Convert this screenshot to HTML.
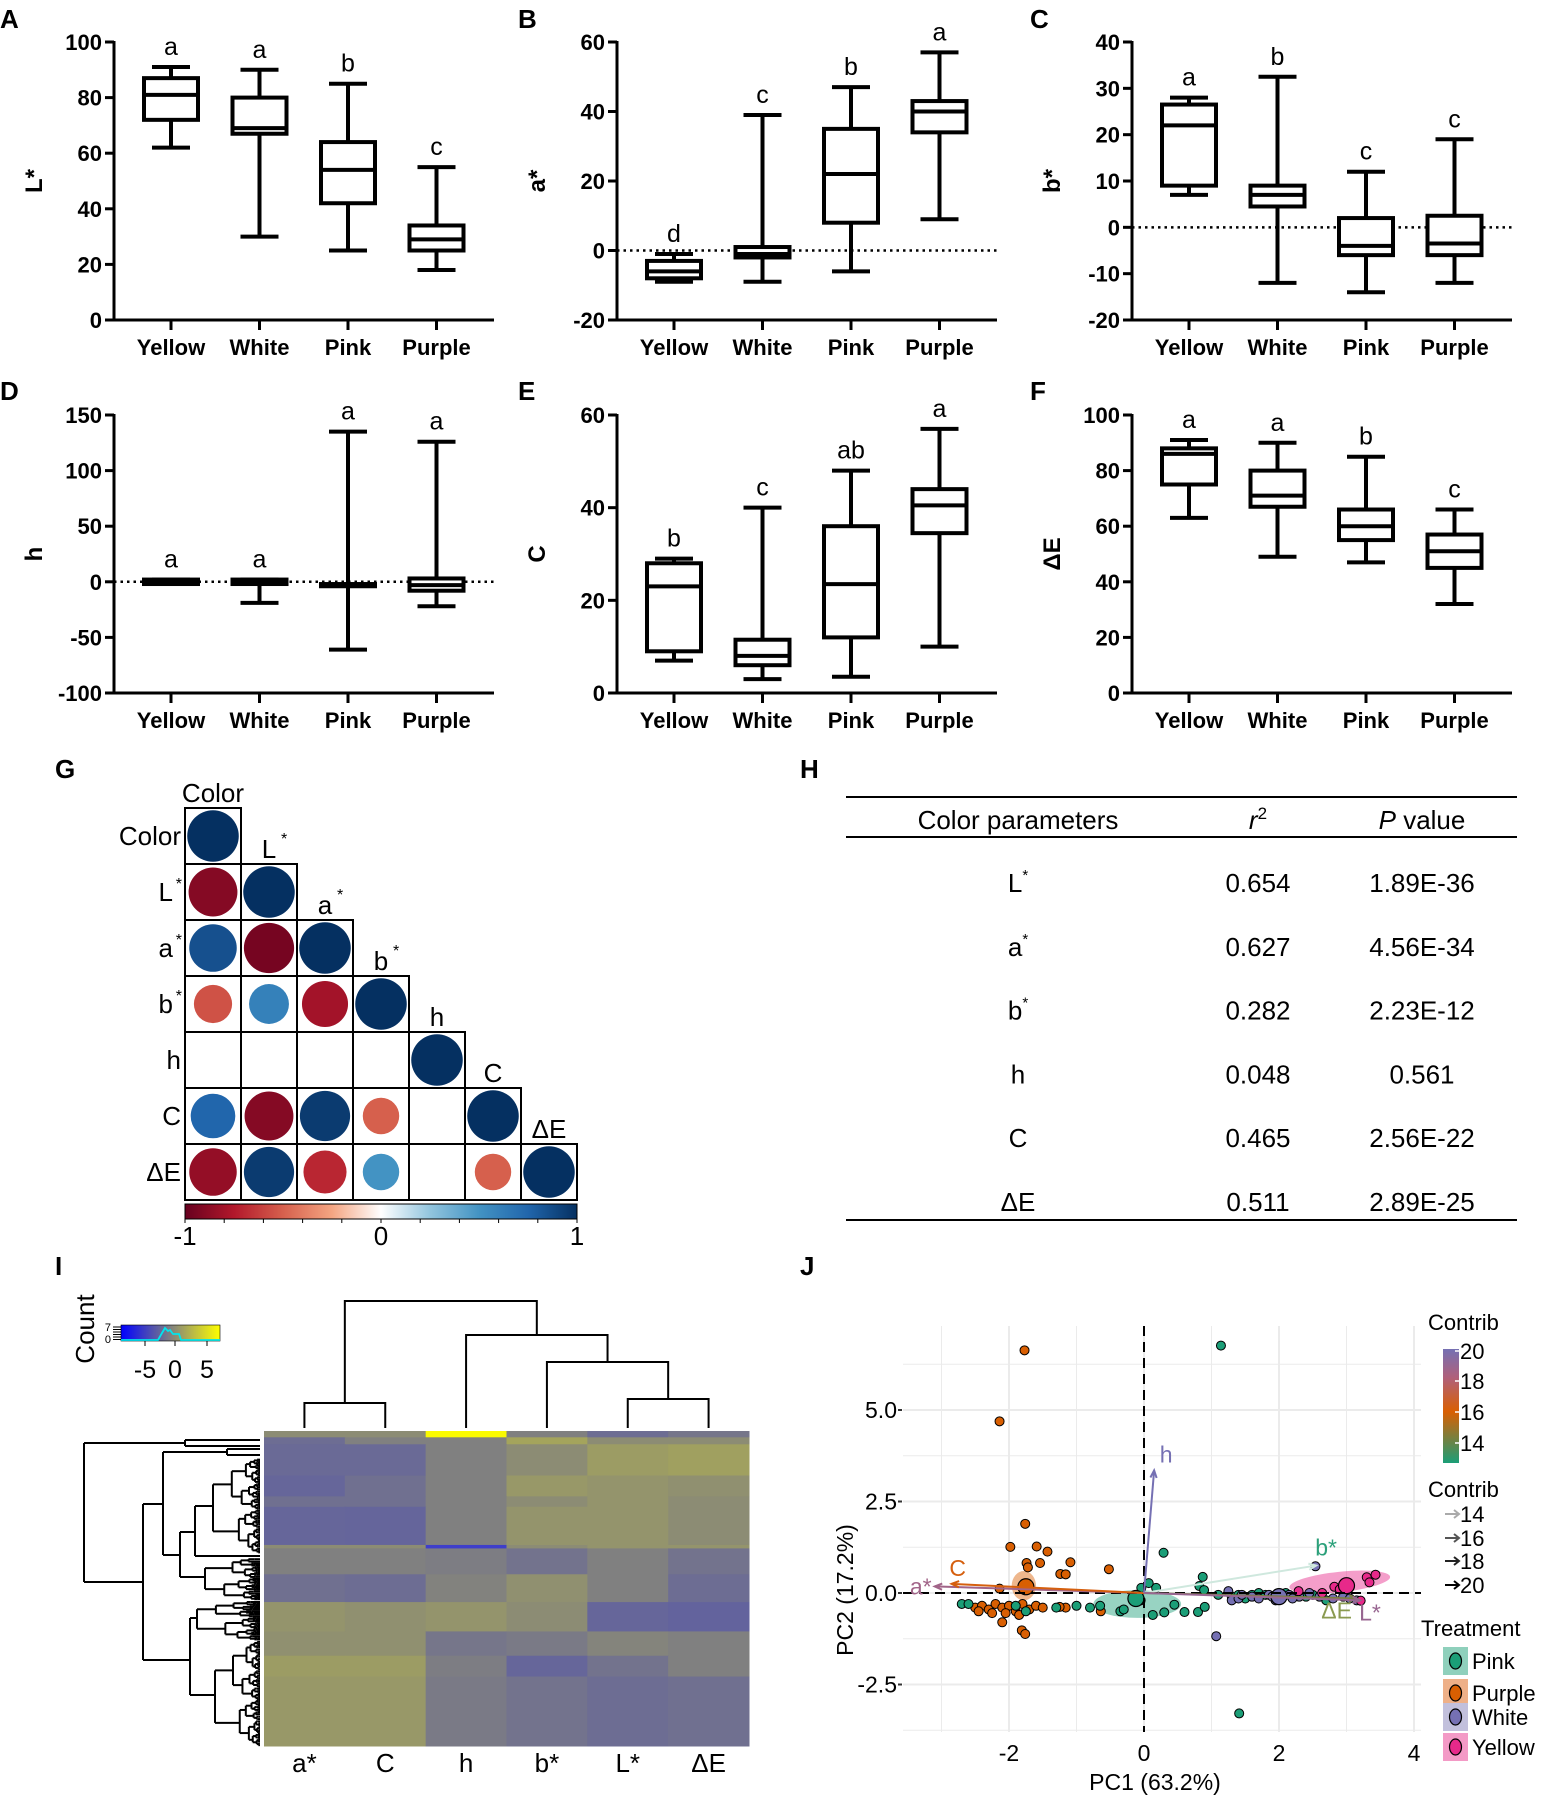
<!DOCTYPE html>
<html><head><meta charset="utf-8">
<style>
html,body{margin:0;padding:0;background:#fff;}
svg{display:block;font-family:"Liberation Sans",Arial,sans-serif;}
.n{font-family:"Liberation Sans Narrow","Liberation Sans",sans-serif;}
</style></head>
<body>
<svg id="fig" width="1555" height="1803" viewBox="0 0 1555 1803" xmlns="http://www.w3.org/2000/svg">
<g font-weight="bold" font-size="26">
<text x="0" y="28">A</text>
<text x="518" y="28">B</text>
<text x="1030" y="28">C</text>
<text x="0" y="400">D</text>
<text x="518" y="400">E</text>
<text x="1030" y="400">F</text>
<text x="55" y="778">G</text>
<text x="800" y="778">H</text>
<text x="55" y="1275">I</text>
<text x="800" y="1275">J</text>
</g>
<g id="table-h" font-size="26">
<line x1="846" y1="797" x2="1517" y2="797" stroke="#000" stroke-width="2"/>
<text x="1018" y="829" text-anchor="middle">Color parameters</text>
<text x="1258" y="829" text-anchor="middle"><tspan font-style="italic">r</tspan><tspan font-size="17" dy="-10">2</tspan></text>
<text x="1422" y="829" text-anchor="middle"><tspan font-style="italic">P</tspan> value</text>
<line x1="846" y1="837" x2="1517" y2="837" stroke="#000" stroke-width="2"/>
<line x1="846" y1="1220" x2="1517" y2="1220" stroke="#000" stroke-width="2"/>
</g>
</svg>
<script>
// ---------- DATA ----------
const groups = ['Yellow','White','Pink','Purple'];
const statsL  = [[62,72,81,87,91],[30,67,69,80,90],[25,42,54,64,85],[18,25,29,34,55]];
const lettersL = ['a','a','b','c'];
const statsA  = [[-9,-8,-6,-3,-1],[-9,-2,-1,1,39],[-6,8,22,35,47],[9,34,40,43,57]];
const lettersA = ['d','c','b','a'];
const statsB  = [[7,9,22,26.5,28],[-12,4.5,7,9,32.5],[-14,-6,-4,2,12],[-12,-6,-3.5,2.5,19]];
const lettersB = ['a','b','c','c'];
const statsH  = [[-2,-2,0,2,2],[-19,-2,0,2,2],[-61,-4,-3,-2,135],[-22,-8,-3,3,126]];
const lettersH = ['a','a','a','a'];
const statsC  = [[7,9,23,28,29],[3,6,8,11.5,40],[3.5,12,23.5,36,48],[10,34.5,40.5,44,57]];
const lettersC = ['b','c','ab','a'];
const statsE  = [[63,75,86,88,91],[49,67,71,80,90],[47,55,60,66,85],[32,45,51,57,66]];
const lettersE = ['a','a','b','c'];

const corrLabels = ['Color','L*','a*','b*','h','C','ΔE'];
const corrValues = [
 [1],
 [-0.9,1],
 [0.85,-0.95,1],
 [-0.55,0.6,-0.8,1],
 [null,null,null,null,1],
 [0.75,-0.9,0.95,-0.5,null,1],
 [-0.85,0.95,-0.7,0.5,null,-0.5,1]
];

const tableParams = ['L','a','b','h','C','ΔE'];
const tableR2 = ['0.654','0.627','0.282','0.048','0.465','0.511'];
const tableP = ['1.89E-36','4.56E-34','2.23E-12','0.561','2.56E-22','2.89E-25'];

const heatCols = ['a*','C','h','b*','L*','ΔE'];
const heatBlockFrac = [0.02,0.022,0.099,0.066,0.033,0.121,0.011,0.082,0.088,0.093,0.077,0.066,0.220];
const heatBlockVals = [
 [0.3,0.3,1.5,0,-0.6,-0.3],
 [-0.6,0,0,0.9,0.3,0.3],
 [-0.7,-0.7,0,0.3,0.7,0.8],
 [-0.8,-0.5,0,0.6,0.5,0.4],
 [-0.5,-0.5,0,0.3,0.5,0.3],
 [-0.8,-0.85,0,0.5,0.5,0.3],
 [0.3,0.3,-1.3,0.3,0.5,0.5],
 [0,0,-0.1,-0.4,0,-0.4],
 [-0.5,-0.6,0.05,0.4,0,-0.6],
 [0.5,0.4,0.5,0.3,-0.8,-0.9],
 [0.4,0.4,-0.3,-0.2,0.1,0],
 [0.7,0.7,-0.1,-0.8,-0.4,0],
 [0.6,0.6,-0.2,-0.4,-0.6,-0.5]
];

const pcaPurpleX = [-1.77,-2.14,-1.76,-1.98,-1.59,-1.43,-1.74,-1.54,-1.09,-0.52,-1.24,-1.16,-2.14,-2.5,-2.4,-2.3,-2.2,-2.1,-2.0,-1.9,-1.8,-1.7,-1.6,-1.5,-2.45,-2.25,-2.05,-1.85,-2.1,-1.81,-1.76,-1.16,-0.64,-1.25,-1.72];
const pcaPurpleY = [6.63,4.69,1.89,1.26,1.27,1.13,0.82,0.82,0.84,0.65,0.52,0.51,0.12,-0.4,-0.35,-0.45,-0.3,-0.4,-0.35,-0.5,-0.3,-0.45,-0.35,-0.4,-0.5,-0.55,-0.55,-0.6,-0.8,-1.02,-1.12,-0.4,-0.5,-0.38,0.7];
const pcaPinkX = [1.14,0.29,0.87,0.82,0.89,-0.04,0.18,0.07,1.41,-2.7,-2.6,-1.75,-1.9,-1.3,-1.0,-0.8,-0.65,-0.35,-0.3,0.13,0.3,0.45,0.6,0.8,0.9,1.6,1.7,1.8,1.5,2.0,2.1,1.3,1.4,2.4,2.5,2.7,1.1,-0.05];
const pcaPinkY = [6.76,1.10,0.44,0.19,0.08,0.14,0.14,0.27,-3.29,-0.3,-0.3,-0.5,-0.35,-0.4,-0.35,-0.4,-0.35,-0.5,-0.45,-0.6,-0.53,-0.32,-0.52,-0.52,-0.38,-0.05,0.0,-0.05,-0.15,-0.1,0.0,-0.1,-0.05,-0.1,-0.05,-0.2,-0.05,-0.2];
const pcaWhiteX = [2.54,1.07,1.25,1.3,1.4,1.45,1.6,1.7,1.85,1.95,2.05,2.15,2.3,2.45,2.6,2.8,2.95,3.05,3.15,2.2,1.9];
const pcaWhiteY = [0.73,-1.18,0.05,-0.2,-0.15,-0.05,-0.1,-0.15,-0.05,-0.2,-0.1,-0.05,-0.1,0.0,-0.1,-0.15,-0.1,-0.15,-0.2,-0.15,-0.1];
const pcaYellowX = [3.3,3.43,3.34,2.82,2.64,2.29,3.21,2.9,3.0];
const pcaYellowY = [0.43,0.5,0.29,0.17,0.0,0.05,-0.21,0.1,0.25];
const centroidX = [-0.12,-1.75,2.0,3.0];
const centroidY = [-0.15,0.17,-0.1,0.2];
const arrowNames = ['a*','C','h','b*','ΔE','L*'];
const arrowX = [-3.1,-2.85,0.15,2.55,3.15,3.2];
const arrowY = [0.18,0.25,3.35,0.75,-0.15,-0.2];
const arrowContrib = [18.5,16.2,20,13.2,14.5,18.8];

// ---------- HELPERS ----------
const NS='http://www.w3.org/2000/svg';
const svg=document.getElementById('fig');
function mk(parent,tag,attrs,text){
  const e=document.createElementNS(NS,tag);
  for(const k in attrs) e.setAttribute(k,attrs[k]);
  if(text!==undefined) e.textContent=text;
  parent.appendChild(e);
  return e;
}

// ---------- BOX PLOTS ----------
const panels=[
 {stats:statsL,letters:lettersL,min:0,max:100,ticks:[0,20,40,60,80,100],label:'L*',ax:114,top:42,zero:false},
 {stats:statsA,letters:lettersA,min:-20,max:60,ticks:[-20,0,20,40,60],label:'a*',ax:617,top:42,zero:true},
 {stats:statsB,letters:lettersB,min:-20,max:40,ticks:[-20,-10,0,10,20,30,40],label:'b*',ax:1132,top:42,zero:true},
 {stats:statsH,letters:lettersH,min:-100,max:150,ticks:[-100,-50,0,50,100,150],label:'h',ax:114,top:415,zero:true},
 {stats:statsC,letters:lettersC,min:0,max:60,ticks:[0,20,40,60],label:'C',ax:617,top:415,zero:false},
 {stats:statsE,letters:lettersE,min:0,max:100,ticks:[0,20,40,60,80,100],label:'ΔE',ax:1132,top:415,zero:false}
];
panels.forEach((p,pi)=>{
  const g=mk(svg,'g',{});
  
  
  const H=278, bot=p.top+H;
  const y=v=>bot-(v-p.min)/(p.max-p.min)*H;
  const xc=i=>p.ax+57+88.5*i;
  const end=p.ax+380;
  const yaxis=mk(g,'line',{x1:p.ax,y1:p.top-1,x2:p.ax,y2:bot+1.5,stroke:'#000','stroke-width':3});
  
  
  const xaxis=mk(g,'line',{x1:p.ax-1.5,y1:bot,x2:end,y2:bot,stroke:'#000','stroke-width':3});
  
  
  p.ticks.forEach(t=>{
    const tk=mk(g,'line',{x1:p.ax-9,y1:y(t),x2:p.ax,y2:y(t),stroke:'#000','stroke-width':3});
    
    
    const tl=mk(g,'text',{x:p.ax-12,y:y(t)+8,'text-anchor':'end','font-size':22,'font-weight':'bold'},String(t));
    
    
  });
  const yl=mk(g,'text',{x:0,y:0,'font-size':24,'font-weight':'bold','text-anchor':'middle',transform:`translate(${p.ax-72},${p.top+H/2}) rotate(-90)`},p.label);
  
  
  if(p.zero){
    const zl=mk(g,'line',{x1:p.ax,y1:y(0),x2:end,y2:y(0),stroke:'#000','stroke-width':2.5,'stroke-dasharray':'2.5 4'});
    
    
  }
  groups.forEach((gname,i)=>{
    const s=p.stats[i], x=xc(i);
    const xt=mk(g,'line',{x1:x,y1:bot,x2:x,y2:bot+10,stroke:'#000','stroke-width':3});
    
    
    const xl=mk(g,'text',{x:x,y:bot+35,'text-anchor':'middle','font-size':22,'font-weight':'bold'},gname);
    
    
    const bg=mk(g,'g',{stroke:'#000','stroke-width':4,fill:'none'});
    
    
    mk(bg,'line',{x1:x,y1:y(s[0]),x2:x,y2:y(s[1])});
    mk(bg,'line',{x1:x,y1:y(s[3]),x2:x,y2:y(s[4])});
    mk(bg,'line',{x1:x-19,y1:y(s[0]),x2:x+19,y2:y(s[0])});
    mk(bg,'line',{x1:x-19,y1:y(s[4]),x2:x+19,y2:y(s[4])});
    mk(bg,'rect',{x:x-27,y:y(s[3]),width:54,height:Math.max(2,y(s[1])-y(s[3])),fill:'#fff'});
    mk(bg,'line',{x1:x-27,y1:y(s[2]),x2:x+27,y2:y(s[2])});
    const lt=mk(g,'text',{x:x,y:y(s[4])-12,'text-anchor':'middle','font-size':25},p.letters[i]);
    
    
  });
});

// ---------- CORRELATION (G) ----------
(function(){
  const g=mk(svg,'g',{});
  
  
  const L=185,T=808,c=56;
  const stops=[[-1,[103,0,31]],[-0.75,[178,24,43]],[-0.5,[214,96,77]],[-0.25,[244,165,130]],[0,[255,255,255]],[0.25,[146,197,222]],[0.5,[67,147,195]],[0.75,[33,102,172]],[1,[5,48,97]]];
  function col(v){for(let i=0;i<stops.length-1;i++){const a=stops[i],b=stops[i+1];if(v<=b[0]){const t=(v-a[0])/(b[0]-a[0]);return 'rgb('+a[1].map((q,k)=>Math.round(q+(b[1][k]-q)*t)).join(',')+')';}}return 'rgb(5,48,97)';}
  corrValues.forEach((row,i)=>{
    row.forEach((v,j)=>{
      const cell=mk(g,'rect',{x:L+j*c,y:T+i*c,width:c,height:c,fill:'#fff',stroke:'#000','stroke-width':2});
      
      
      if(v!==null){
        const ci=mk(g,'circle',{cx:L+j*c+c/2,cy:T+i*c+c/2,r:c*0.46*Math.sqrt(Math.abs(v)),fill:col(v)});
        
        
      }
    });
  });
  corrLabels.forEach((n,i)=>{
    const star=n.endsWith('*'), base=star?n.slice(0,-1):n;
    const rl=mk(g,'text',{x:L-4-(star?8:0),y:T+i*c+c/2+9,'text-anchor':'end','font-size':26},base);
    
    
    if(star){const s=mk(g,'text',{x:L-3,y:T+i*c+c/2-3,'text-anchor':'end','font-size':16},'*');}
    const cl=mk(g,'text',{x:L+i*c+c/2,y:T+i*c-6,'text-anchor':'middle','font-size':26},base);
    
    
    if(star){const s=mk(g,'text',{x:L+i*c+c/2+12,y:T+i*c-20,'font-size':16},'*');}
  });
  const defs=mk(svg,'defs',{});
  const lg=mk(defs,'linearGradient',{id:'rdbu',x1:0,x2:1,y1:0,y2:0});
  stops.forEach(s=>mk(lg,'stop',{offset:((s[0]+1)/2*100)+'%','stop-color':col(s[0])}));
  const W=7*c;
  const cb=mk(g,'rect',{x:L,y:1204,width:W,height:15,fill:'url(#rdbu)',stroke:'#000','stroke-width':1});
  
  
  for(let k=0;k<=10;k++){mk(g,'line',{x1:L+W*k/10,y1:1219,x2:L+W*k/10,y2:1223,stroke:'#000','stroke-width':1});}
  [['-1',0],['0',0.5],['1',1]].forEach(([t,f])=>{
    const tl=mk(g,'text',{x:L+W*f,y:1245,'text-anchor':'middle','font-size':26},t);
    
    
  });
})();

// ---------- TABLE (H) ----------
(function(){
  const g=document.getElementById('table-h');
  tableParams.forEach((p,i)=>{
    const yb=892+i*63.8;
    const t=mk(g,'text',{x:1018,y:yb,'text-anchor':'middle','font-size':26},'');
    
    
    mk(t,'tspan',{},p);
    if(p.length===1&&'Lab'.includes(p)) mk(t,'tspan',{'font-size':15,dy:-12},'*');
    const r=mk(g,'text',{x:1258,y:yb,'text-anchor':'middle','font-size':26},tableR2[i]);
    
    
    const pv=mk(g,'text',{x:1422,y:yb,'text-anchor':'middle','font-size':26},tableP[i]);
    
    
  });
})();

// ---------- HEATMAP (I) ----------
(function(){
  const g=mk(svg,'g',{});
  
  
  const X0=264,X1=749,Y0=1431,Y1=1746,cw=(X1-X0)/heatCols.length;
  function hc(v){
    const gray=[128,128,128],blue=[96,96,160],dblue=[40,40,230],yel=[168,168,88],byel=[250,250,0];
    let a,b,t;
    if(v>=0){ if(v<=1){a=gray;b=yel;t=v;} else {a=yel;b=byel;t=(v-1)/0.5;} }
    else { if(v>=-1){a=gray;b=blue;t=-v;} else {a=blue;b=dblue;t=(-v-1)/0.5;} }
    t=Math.min(1,t);
    return 'rgb('+a.map((q,k)=>Math.round(q+(b[k]-q)*t)).join(',')+')';
  }
  let yy=Y0;
  const tot=heatBlockFrac.reduce((s,v)=>s+v,0);
  heatBlockFrac.forEach((f,bi)=>{
    const h=f/tot*(Y1-Y0);
    heatBlockVals[bi].forEach((v,ci)=>{
      const r=mk(g,'rect',{x:X0+ci*cw,y:yy,width:cw+0.5,height:h+0.5,fill:hc(v)});
      
      
    });
    yy+=h;
  });
  heatCols.forEach((n,i)=>{
    const t=mk(g,'text',{x:X0+cw*(i+0.5),y:1772,'text-anchor':'middle','font-size':26},n);
    
    
  });
  const cx=i=>X0+cw*(i+0.5);
  const d=mk(g,'g',{stroke:'#000','stroke-width':2,fill:'none'});
  
  
  const leafY=1428;
  const ac=(cx(0)+cx(1))/2, le=(cx(4)+cx(5))/2, bl=(cx(3)+le)/2, hb=(cx(2)+bl)/2;
  const seg=(pts)=>mk(d,'polyline',{points:pts.map(p=>p.join(',')).join(' ')});
  seg([[cx(0),leafY],[cx(0),1403],[cx(1),1403],[cx(1),leafY]]);
  seg([[cx(4),leafY],[cx(4),1399],[cx(5),1399],[cx(5),leafY]]);
  seg([[cx(3),leafY],[cx(3),1362],[le,1362],[le,1399]]);
  seg([[cx(2),leafY],[cx(2),1335],[bl,1335],[bl,1362]]);
  seg([[ac,1403],[ac,1301],[hb,1301],[hb,1335]]);
  // row dendrogram
  const rd=mk(g,'g',{stroke:'#000','stroke-width':2,fill:'none'});
  
  
  const ln=(x1,y1,x2,y2)=>mk(rd,'line',{x1,y1,x2,y2});
  const R=260;
  function sub(x,y1,y2,k){
    if(y2-y1<2.5){ln(x,(y1+y2)/2,R,(y1+y2)/2);return;}
    const m=y1+(y2-y1)*(0.4+0.2*((k*37)%10)/10);
    const c1=(y1+m)/2, c2=(m+y2)/2;
    const xa=x+(R-x)*(0.3+0.1*(k%3)), xb=x+(R-x)*(0.35+0.1*((k+1)%3));
    ln(x,c1,x,c2); ln(x,c1,xa,c1); ln(x,c2,xb,c2);
    sub(xa,y1,m,k+1); sub(xb,m,y2,k+2);
  }
  ln(84,1443,84,1582); ln(84,1443,185,1443); ln(84,1582,143,1582);
  ln(185,1440,185,1446); ln(185,1440,R,1440); ln(185,1446,R,1446);
  ln(143,1504,143,1660); ln(143,1504,163,1504); ln(143,1660,190,1660);
  ln(163,1452,163,1555); ln(163,1452,227,1452); ln(163,1555,180,1555);
  ln(227,1449,227,1455); ln(227,1449,R,1449); ln(227,1455,R,1455);
  ln(180,1532,180,1577); ln(180,1532,195,1532); ln(180,1577,205,1577);
  ln(195,1506,195,1556); ln(195,1506,213,1506); ln(195,1556,R,1556);
  sub(213,1459,1553,1);
  sub(205,1558,1600,2);
  ln(190,1618,190,1695); ln(190,1618,197,1618); ln(190,1695,215,1695);
  sub(197,1601,1640,3);
  sub(215,1641,1746,4);
  // count key
  const kg=mk(svg,'g',{});
  
  
  const defs=document.querySelector('defs');
  const lg=mk(defs,'linearGradient',{id:'bly',x1:0,x2:1,y1:0,y2:0});
  mk(lg,'stop',{offset:'0%','stop-color':'#0000ff'});
  mk(lg,'stop',{offset:'50%','stop-color':'#808080'});
  mk(lg,'stop',{offset:'100%','stop-color':'#ffff00'});
  const kb=mk(kg,'rect',{x:121,y:1325,width:99,height:16,fill:'url(#bly)',stroke:'#000','stroke-width':0.6});
  
  
  mk(kg,'polyline',{points:'121,1340 158,1340 162,1333 165,1328 168,1331 170,1330 173,1334 179,1334 181,1340 220,1340',stroke:'#00e5ee','stroke-width':1.8,fill:'none'});
  for(let k=0;k<6;k++) mk(kg,'line',{x1:113,y1:1327+k*2.5,x2:121,y2:1327+k*2.5,stroke:'#000','stroke-width':1});
  mk(kg,'text',{x:111,y:1331,'font-size':11,'text-anchor':'end'},'7');
  mk(kg,'text',{x:111,y:1343,'font-size':11,'text-anchor':'end'},'0');
  [['-5',145],['0',175],['5',207]].forEach(([t,x])=>{
    mk(kg,'line',{x1:x,y1:1341,x2:x,y2:1346,stroke:'#000','stroke-width':1});
    const tl=mk(kg,'text',{x:x,y:1378,'text-anchor':'middle','font-size':25},t);
    
    
  });
  const ct=mk(kg,'text',{x:0,y:0,'font-size':26,'text-anchor':'middle',transform:'translate(94,1329) rotate(-90)'},'Count');
  
  
})();

// ---------- PCA (J) ----------
(function(){
  const g=mk(svg,'g',{'class':'n'});
  
  
  const PX0=903,PX1=1421,PY0=1326,PY1=1732;
  const sx=v=>1144+v*67.5, sy=v=>1593-v*36.6;
  [-3,-2,-1,0,1,2,3,4].forEach(v=>{const gl=mk(g,'line',{x1:sx(v),y1:PY0,x2:sx(v),y2:PY1,stroke:'#ebebeb','stroke-width':v%2===0?2:1});});
  [-3.75,-2.5,-1.25,0,1.25,2.5,3.75,5,6.25].forEach((v,k)=>{const gl=mk(g,'line',{x1:PX0,y1:sy(v),x2:PX1,y2:sy(v),stroke:'#ebebeb','stroke-width':k%2===1?2:1});});
  const ell=[[-0.1,-0.3,0.65,0.38,'#1b9e77',0],[-1.78,0.2,0.18,0.4,'#d95f02',0],[2.9,0.3,0.75,0.28,'#e7298a',-6]];
  ell.forEach(e=>{const el=mk(g,'ellipse',{cx:sx(e[0]),cy:sy(e[1]),rx:e[2]*67.5,ry:e[3]*36.6,fill:e[4],'fill-opacity':0.45,transform:`rotate(${e[5]},${sx(e[0])},${sy(e[1])})`});});
  const sets=[[pcaPurpleX,pcaPurpleY,'#d95f02','purple'],[pcaPinkX,pcaPinkY,'#1b9e77','pink'],[pcaWhiteX,pcaWhiteY,'#7570b3','white'],[pcaYellowX,pcaYellowY,'#e7298a','yellow']];
  sets.forEach(s=>{
    s[0].forEach((x,i)=>{
      const c=mk(g,'circle',{cx:sx(x),cy:sy(s[1][i]),r:4.5,fill:s[2],stroke:'#000','stroke-width':1});
      
      
    });
  });
  const ccols=['#1b9e77','#d95f02','#7570b3','#e7298a'];
  centroidX.forEach((x,i)=>{
    const c=mk(g,'circle',{cx:sx(x),cy:sy(centroidY[i]),r:8,fill:ccols[i],stroke:'#000','stroke-width':1.2});
    
    
  });
  const dx=mk(g,'line',{x1:PX0,y1:sy(0),x2:PX1,y2:sy(0),stroke:'#000','stroke-width':2,'stroke-dasharray':'10 6'});
  
  
  const dy=mk(g,'line',{x1:sx(0),y1:PY0,x2:sx(0),y2:PY1,stroke:'#000','stroke-width':2,'stroke-dasharray':'10 6'});
  
  
  function ccol(v){const st=[[13,[27,158,119]],[16,[217,95,2]],[18,[176,96,122]],[20,[117,112,179]]];for(let i=0;i<st.length-1;i++){const a=st[i],b=st[i+1];if(v<=b[0]){const t=Math.max(0,(v-a[0])/(b[0]-a[0]));return 'rgb('+a[1].map((q,k)=>Math.round(q+(b[1][k]-q)*t)).join(',')+')';}}return 'rgb(117,112,179)';}
  const labOff=[[-14,8],[6,-8],[12,-8],[10,-10],[-20,20],[10,20]];
  arrowNames.forEach((n,i)=>{
    const x2=sx(arrowX[i]),y2=sy(arrowY[i]),x1=sx(0),y1=sy(0);
    const col=i===3?'#cfe8de':ccol(arrowContrib[i]);
    const a=mk(g,'line',{x1,y1,x2,y2,stroke:col,'stroke-width':2});
    
    
    const ang=Math.atan2(y2-y1,x2-x1);
    const hp=[[x2,y2],[x2-8*Math.cos(ang-0.4),y2-8*Math.sin(ang-0.4)],[x2,y2],[x2-8*Math.cos(ang+0.4),y2-8*Math.sin(ang+0.4)]];
    mk(g,'polyline',{points:hp.map(p=>p.join(',')).join(' '),stroke:col,'stroke-width':2,fill:'none'});
    const lcol=i===3?'#2ca07a':(i===4?'#8a9a50':ccol(arrowContrib[i]));
    const t=mk(g,'text',{x:x2+labOff[i][0],y:y2+labOff[i][1],'font-size':23,fill:lcol,'text-anchor':'middle'},n);
    
    
  });
  [['-2',-2],['0',0],['2',2],['4',4]].forEach(([t,v])=>{const tl=mk(g,'text',{x:sx(v),y:1761,'text-anchor':'middle','font-size':23},t);});
  [['5.0',5],['2.5',2.5],['0.0',0],['-2.5',-2.5]].forEach(([t,v])=>{const tl=mk(g,'text',{x:897,y:sy(v)+8,'text-anchor':'end','font-size':23},t);mk(g,'line',{x1:898,y1:sy(v),x2:902,y2:sy(v),stroke:'#333','stroke-width':2});});
  const xt=mk(g,'text',{x:1155,y:1790,'text-anchor':'middle','font-size':23},'PC1 (63.2%)');
  
  
  const yt=mk(g,'text',{x:0,y:0,'text-anchor':'middle','font-size':23,transform:'translate(853,1590) rotate(-90)'},'PC2 (17.2%)');
  
  
  const lgd=mk(g,'g',{});
  
  
  mk(lgd,'text',{x:1428,y:1330,'font-size':22},'Contrib');
  const defs=document.querySelector('defs');
  const gr=mk(defs,'linearGradient',{id:'contrib',x1:0,x2:0,y1:1,y2:0});
  mk(gr,'stop',{offset:'0%','stop-color':'#1b9e77'});
  mk(gr,'stop',{offset:'45%','stop-color':'#d95f02'});
  mk(gr,'stop',{offset:'75%','stop-color':'#b0607a'});
  mk(gr,'stop',{offset:'100%','stop-color':'#7570b3'});
  mk(lgd,'rect',{x:1443,y:1349,width:16,height:114,fill:'url(#contrib)'});
  [['20',1351],['18',1381],['16',1412],['14',1443]].forEach(([t,y])=>{mk(lgd,'line',{x1:1455,y1:y,x2:1459,y2:y,stroke:'#fff','stroke-width':1.5});mk(lgd,'text',{x:1460,y:y+8,'font-size':22},t);});
  mk(lgd,'text',{x:1428,y:1497,'font-size':22},'Contrib');
  [['14',1514,'#aaa'],['16',1538,'#555'],['18',1561,'#222'],['20',1585,'#000']].forEach(([t,y,c])=>{mk(lgd,'line',{x1:1445,y1:y,x2:1459,y2:y,stroke:c,'stroke-width':2});mk(lgd,'polyline',{points:`1454,${y-4} 1459,${y} 1454,${y+4}`,stroke:c,'stroke-width':2,fill:'none'});mk(lgd,'text',{x:1460,y:y+8,'font-size':22},t);});
  mk(lgd,'text',{x:1421,y:1636,'font-size':22},'Treatment');
  [['Pink',1661,'#1b9e77','#8fd0bc'],['Purple',1693,'#d95f02','#eeb088'],['White',1717,'#7570b3','#c2c0dc'],['Yellow',1747,'#e7298a','#f39ac6']].forEach(([t,y,c,bg])=>{
    const kr=mk(lgd,'rect',{x:1443,y:y-14,width:25,height:28,fill:bg});
    
    
    mk(lgd,'ellipse',{cx:1455.5,cy:y,rx:6,ry:8,fill:c,stroke:'#000','stroke-width':1.2});
    const lt=mk(lgd,'text',{x:1472,y:y+8,'font-size':22},t);
    
    
  });
})();
</script>
</body></html>
